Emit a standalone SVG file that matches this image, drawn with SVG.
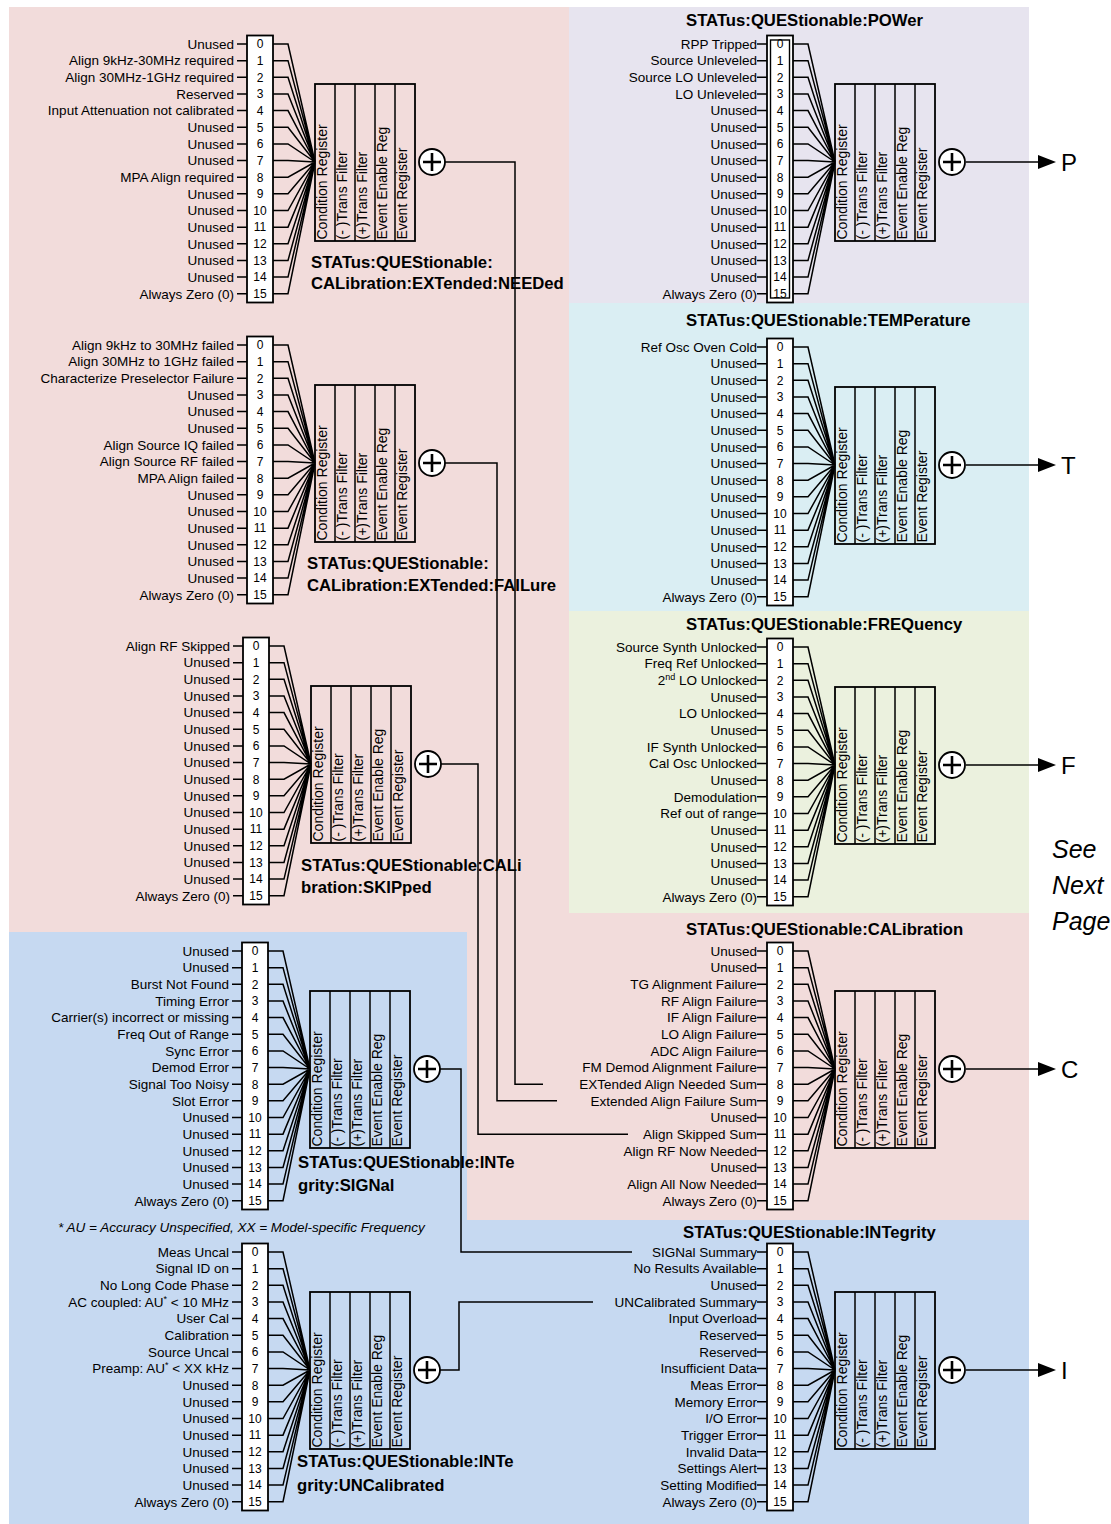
<svg xmlns="http://www.w3.org/2000/svg" width="1111" height="1524" viewBox="0 0 1111 1524">
<style>
text{font-family:"Liberation Sans",Arial,sans-serif;fill:#000}
.lb{font-size:13.5px;text-anchor:end}
.nm{font-size:12px;text-anchor:middle}
.ti{font-size:16.7px;font-weight:bold}
.rc{font-size:14px}
.big{font-size:24px}
.it{font-style:italic}
.ln{stroke:#000;stroke-width:1.5;fill:none}
</style>
<defs>
<g id="tpl">
<path class="ln" d="M-10,0H0M-10,16.65H0M-10,33.3H0M-10,49.95H0M-10,66.6H0M-10,83.25H0M-10,99.9H0M-10,116.55H0M-10,133.2H0M-10,149.85H0M-10,166.5H0M-10,183.15H0M-10,199.8H0M-10,216.45H0M-10,233.1H0M-10,249.75H0"/>
<rect x="0" y="-8.5" width="26" height="267" fill="#fff" stroke="#000" stroke-width="1.8"/>
<g class="nm">
<text x="13" y="4.3">0</text><text x="13" y="20.95">1</text><text x="13" y="37.6">2</text><text x="13" y="54.25">3</text>
<text x="13" y="70.9">4</text><text x="13" y="87.55">5</text><text x="13" y="104.2">6</text><text x="13" y="120.85">7</text>
<text x="13" y="137.5">8</text><text x="13" y="154.15">9</text><text x="13" y="170.8">10</text><text x="13" y="187.45">11</text>
<text x="13" y="204.1">12</text><text x="13" y="220.75">13</text><text x="13" y="237.4">14</text><text x="13" y="254.05">15</text>
</g>
<path class="ln" d="M26,0H41L68,118M26,16.65H41L68,118M26,33.3H41L68,118M26,49.95H41L68,118M26,66.6H41L68,118M26,83.25H41L68,118M26,99.9H41L68,118M26,116.55H41L68,118M26,133.2H41L68,118M26,149.85H41L68,118M26,166.5H41L68,118M26,183.15H41L68,118M26,199.8H41L68,118M26,216.45H41L68,118M26,233.1H41L68,118M26,249.75H41L68,118"/>
<rect x="68" y="40" width="100" height="157" fill="none" stroke="#000" stroke-width="1.8"/>
<path class="ln" d="M88,40V197M108,40V197M128,40V197M148,40V197"/>
<g class="rc">
<text transform="translate(79.5,195.5) rotate(-90)">Condition Register</text>
<text transform="translate(99.5,195.5) rotate(-90)">(- )Trans Filter</text>
<text transform="translate(119.5,195.5) rotate(-90)">(+)Trans Filter</text>
<text transform="translate(139.5,195.5) rotate(-90)">Event Enable Reg</text>
<text transform="translate(159.5,195.5) rotate(-90)">Event Register</text>
</g>
<circle cx="185" cy="118" r="13" fill="#fff" stroke="#000" stroke-width="1.8"/>
<path d="M176,118H194M185,109V127" stroke="#000" stroke-width="2.6"/>
</g>
<g id="arr">
<path class="ln" d="M199,118H273"/>
<path d="M271,111L289,118L271,125Z" fill="#000"/>
</g>
</defs>

<g id="backgrounds">
<rect x="9" y="7" width="560" height="925" fill="#f2dcdb"/>
<rect x="467" y="913" width="562" height="307" fill="#f2dcdb"/>
<rect x="9" y="932" width="458" height="592" fill="#c6d9f1"/>
<rect x="467" y="1220" width="562" height="304" fill="#c6d9f1"/>
<rect x="569" y="7" width="460" height="296" fill="#e7e4ef"/>
<rect x="569" y="303" width="460" height="308" fill="#daeef3"/>
<rect x="569" y="611" width="460" height="302" fill="#ebf1de"/>
</g>

<g id="connectors" class="ln">
<path d="M445,162H515V1084.2H543"/>
<path d="M445,463H497V1100.85H557"/>
<path d="M441,764H478V1134.15H628"/>
<path d="M440,1069H461V1252H632"/>
<path d="M440,1370H459V1301.95H593"/>
</g>

<g id="node-needed" transform="translate(247,44)">
<use href="#tpl"/>
<g class="lb">
<text x="-13" y="4.8">Unused</text><text x="-13" y="21.45">Align 9kHz-30MHz required</text><text x="-13" y="38.1">Align 30MHz-1GHz required</text><text x="-13" y="54.75">Reserved</text>
<text x="-13" y="71.4">Input Attenuation not calibrated</text><text x="-13" y="88.05">Unused</text><text x="-13" y="104.7">Unused</text><text x="-13" y="121.35">Unused</text>
<text x="-13" y="138">MPA Align required</text><text x="-13" y="154.65">Unused</text><text x="-13" y="171.3">Unused</text><text x="-13" y="187.95">Unused</text>
<text x="-13" y="204.6">Unused</text><text x="-13" y="221.25">Unused</text><text x="-13" y="237.9">Unused</text><text x="-13" y="254.55">Always Zero (0)</text>
</g>
<text class="ti" x="64" y="224">STATus:QUEStionable:</text>
<text class="ti" x="64" y="245">CALibration:EXTended:NEEDed</text>
</g>

<g id="node-failure" transform="translate(247,345)">
<use href="#tpl"/>
<g class="lb">
<text x="-13" y="4.8">Align 9kHz to 30MHz failed</text><text x="-13" y="21.45">Align 30MHz to 1GHz failed</text><text x="-13" y="38.1">Characterize Preselector Failure</text><text x="-13" y="54.75">Unused</text>
<text x="-13" y="71.4">Unused</text><text x="-13" y="88.05">Unused</text><text x="-13" y="104.7">Align Source IQ failed</text><text x="-13" y="121.35">Align Source RF failed</text>
<text x="-13" y="138">MPA Align failed</text><text x="-13" y="154.65">Unused</text><text x="-13" y="171.3">Unused</text><text x="-13" y="187.95">Unused</text>
<text x="-13" y="204.6">Unused</text><text x="-13" y="221.25">Unused</text><text x="-13" y="237.9">Unused</text><text x="-13" y="254.55">Always Zero (0)</text>
</g>
<text class="ti" x="60" y="224">STATus:QUEStionable:</text>
<text class="ti" x="60" y="246">CALibration:EXTended:FAILure</text>
</g>

<g id="node-skipped" transform="translate(243,646)">
<use href="#tpl"/>
<g class="lb">
<text x="-13" y="4.8">Align RF Skipped</text><text x="-13" y="21.45">Unused</text><text x="-13" y="38.1">Unused</text><text x="-13" y="54.75">Unused</text>
<text x="-13" y="71.4">Unused</text><text x="-13" y="88.05">Unused</text><text x="-13" y="104.7">Unused</text><text x="-13" y="121.35">Unused</text>
<text x="-13" y="138">Unused</text><text x="-13" y="154.65">Unused</text><text x="-13" y="171.3">Unused</text><text x="-13" y="187.95">Unused</text>
<text x="-13" y="204.6">Unused</text><text x="-13" y="221.25">Unused</text><text x="-13" y="237.9">Unused</text><text x="-13" y="254.55">Always Zero (0)</text>
</g>
<text class="ti" x="58" y="225">STATus:QUEStionable:CALi</text>
<text class="ti" x="58" y="247">bration:SKIPped</text>
</g>

<g id="node-signal" transform="translate(242,951)">
<use href="#tpl"/>
<g class="lb">
<text x="-13" y="4.8">Unused</text><text x="-13" y="21.45">Unused</text><text x="-13" y="38.1">Burst Not Found</text><text x="-13" y="54.75">Timing Error</text>
<text x="-13" y="71.4">Carrier(s) incorrect or missing</text><text x="-13" y="88.05">Freq Out of Range</text><text x="-13" y="104.7">Sync Error</text><text x="-13" y="121.35">Demod Error</text>
<text x="-13" y="138">Signal Too Noisy</text><text x="-13" y="154.65">Slot Error</text><text x="-13" y="171.3">Unused</text><text x="-13" y="187.95">Unused</text>
<text x="-13" y="204.6">Unused</text><text x="-13" y="221.25">Unused</text><text x="-13" y="237.9">Unused</text><text x="-13" y="254.55">Always Zero (0)</text>
</g>
<text class="ti" x="56" y="217">STATus:QUEStionable:INTe</text>
<text class="ti" x="56" y="240">grity:SIGNal</text>
</g>

<g id="node-uncal" transform="translate(242,1252)">
<use href="#tpl"/>
<g class="lb">
<text x="-13" y="4.8">Meas Uncal</text><text x="-13" y="21.45">Signal ID on</text><text x="-13" y="38.1">No Long Code Phase</text><text x="-13" y="54.75">AC coupled: AU<tspan font-size="9" dy="-5">*</tspan><tspan dy="5"> &lt; 10 MHz</tspan></text>
<text x="-13" y="71.4">User Cal</text><text x="-13" y="88.05">Calibration</text><text x="-13" y="104.7">Source Uncal</text><text x="-13" y="121.35">Preamp: AU<tspan font-size="9" dy="-5">*</tspan><tspan dy="5"> &lt; XX kHz</tspan></text>
<text x="-13" y="138">Unused</text><text x="-13" y="154.65">Unused</text><text x="-13" y="171.3">Unused</text><text x="-13" y="187.95">Unused</text>
<text x="-13" y="204.6">Unused</text><text x="-13" y="221.25">Unused</text><text x="-13" y="237.9">Unused</text><text x="-13" y="254.55">Always Zero (0)</text>
</g>
<text class="ti" x="55" y="215">STATus:QUEStionable:INTe</text>
<text class="ti" x="55" y="239">grity:UNCalibrated</text>
</g>

<g id="node-power" transform="translate(767,44)">
<use href="#tpl"/>
<rect x="3.5" y="-4" width="19" height="258" fill="none" stroke="#000" stroke-width="1.4"/>
<use href="#arr"/>
<text class="big" x="294" y="126.5">P</text>
<text class="ti" x="-81" y="-18">STATus:QUEStionable:POWer</text>
<g class="lb">
<text x="-10" y="4.8">RPP Tripped</text><text x="-10" y="21.45">Source Unleveled</text><text x="-10" y="38.1">Source LO Unleveled</text><text x="-10" y="54.75">LO Unleveled</text>
<text x="-10" y="71.4">Unused</text><text x="-10" y="88.05">Unused</text><text x="-10" y="104.7">Unused</text><text x="-10" y="121.35">Unused</text>
<text x="-10" y="138">Unused</text><text x="-10" y="154.65">Unused</text><text x="-10" y="171.3">Unused</text><text x="-10" y="187.95">Unused</text>
<text x="-10" y="204.6">Unused</text><text x="-10" y="221.25">Unused</text><text x="-10" y="237.9">Unused</text><text x="-10" y="254.55">Always Zero (0)</text>
</g>
</g>

<g id="node-temperature" transform="translate(767,347)">
<use href="#tpl"/>
<use href="#arr"/>
<text class="big" x="294" y="126.5">T</text>
<text class="ti" x="-81" y="-21">STATus:QUEStionable:TEMPerature</text>
<g class="lb">
<text x="-10" y="4.8">Ref Osc Oven Cold</text><text x="-10" y="21.45">Unused</text><text x="-10" y="38.1">Unused</text><text x="-10" y="54.75">Unused</text>
<text x="-10" y="71.4">Unused</text><text x="-10" y="88.05">Unused</text><text x="-10" y="104.7">Unused</text><text x="-10" y="121.35">Unused</text>
<text x="-10" y="138">Unused</text><text x="-10" y="154.65">Unused</text><text x="-10" y="171.3">Unused</text><text x="-10" y="187.95">Unused</text>
<text x="-10" y="204.6">Unused</text><text x="-10" y="221.25">Unused</text><text x="-10" y="237.9">Unused</text><text x="-10" y="254.55">Always Zero (0)</text>
</g>
</g>

<g id="node-frequency" transform="translate(767,647)">
<use href="#tpl"/>
<use href="#arr"/>
<text class="big" x="294" y="126.5">F</text>
<text class="ti" x="-81" y="-17">STATus:QUEStionable:FREQuency</text>
<g class="lb">
<text x="-10" y="4.8">Source Synth Unlocked</text><text x="-10" y="21.45">Freq Ref Unlocked</text><text x="-10" y="38.1">2<tspan font-size="9" dy="-5">nd</tspan><tspan dy="5"> LO Unlocked</tspan></text><text x="-10" y="54.75">Unused</text>
<text x="-10" y="71.4">LO Unlocked</text><text x="-10" y="88.05">Unused</text><text x="-10" y="104.7">IF Synth Unlocked</text><text x="-10" y="121.35">Cal Osc Unlocked</text>
<text x="-10" y="138">Unused</text><text x="-10" y="154.65">Demodulation</text><text x="-10" y="171.3">Ref out of range</text><text x="-10" y="187.95">Unused</text>
<text x="-10" y="204.6">Unused</text><text x="-10" y="221.25">Unused</text><text x="-10" y="237.9">Unused</text><text x="-10" y="254.55">Always Zero (0)</text>
</g>
</g>

<g id="node-calibration" transform="translate(767,951)">
<use href="#tpl"/>
<use href="#arr"/>
<text class="big" x="294" y="126.5">C</text>
<text class="ti" x="-81" y="-16">STATus:QUEStionable:CALibration</text>
<g class="lb">
<text x="-10" y="4.8">Unused</text><text x="-10" y="21.45">Unused</text><text x="-10" y="38.1">TG Alignment Failure</text><text x="-10" y="54.75">RF Align Failure</text>
<text x="-10" y="71.4">IF Align Failure</text><text x="-10" y="88.05">LO Align Failure</text><text x="-10" y="104.7">ADC Align Failure</text><text x="-10" y="121.35">FM Demod Alignment Failure</text>
<text x="-10" y="138">EXTended Align Needed Sum</text><text x="-10" y="154.65">Extended Align Failure Sum</text><text x="-10" y="171.3">Unused</text><text x="-10" y="187.95">Align Skipped Sum</text>
<text x="-10" y="204.6">Align RF Now Needed</text><text x="-10" y="221.25">Unused</text><text x="-10" y="237.9">Align All Now Needed</text><text x="-10" y="254.55">Always Zero (0)</text>
</g>
</g>

<g id="node-integrity" transform="translate(767,1252)">
<use href="#tpl"/>
<use href="#arr"/>
<text class="big" x="294" y="126.5">I</text>
<text class="ti" x="-84" y="-14">STATus:QUEStionable:INTegrity</text>
<g class="lb">
<text x="-10" y="4.8">SIGNal Summary</text><text x="-10" y="21.45">No Results Available</text><text x="-10" y="38.1">Unused</text><text x="-10" y="54.75">UNCalibrated Summary</text>
<text x="-10" y="71.4">Input Overload</text><text x="-10" y="88.05">Reserved</text><text x="-10" y="104.7">Reserved</text><text x="-10" y="121.35">Insufficient Data</text>
<text x="-10" y="138">Meas Error</text><text x="-10" y="154.65">Memory Error</text><text x="-10" y="171.3">I/O Error</text><text x="-10" y="187.95">Trigger Error</text>
<text x="-10" y="204.6">Invalid Data</text><text x="-10" y="221.25">Settings Alert</text><text x="-10" y="237.9">Setting Modified</text><text x="-10" y="254.55">Always Zero (0)</text>
</g>
</g>

<g id="notes">
<text class="it" x="58" y="1232" font-size="13.5">* AU = Accuracy Unspecified, XX = Model-specific Frequency</text>
<g class="it" font-size="25">
<text x="1052" y="858">See</text>
<text x="1052" y="894">Next</text>
<text x="1052" y="930">Page</text>
</g>
</g>
</svg>
